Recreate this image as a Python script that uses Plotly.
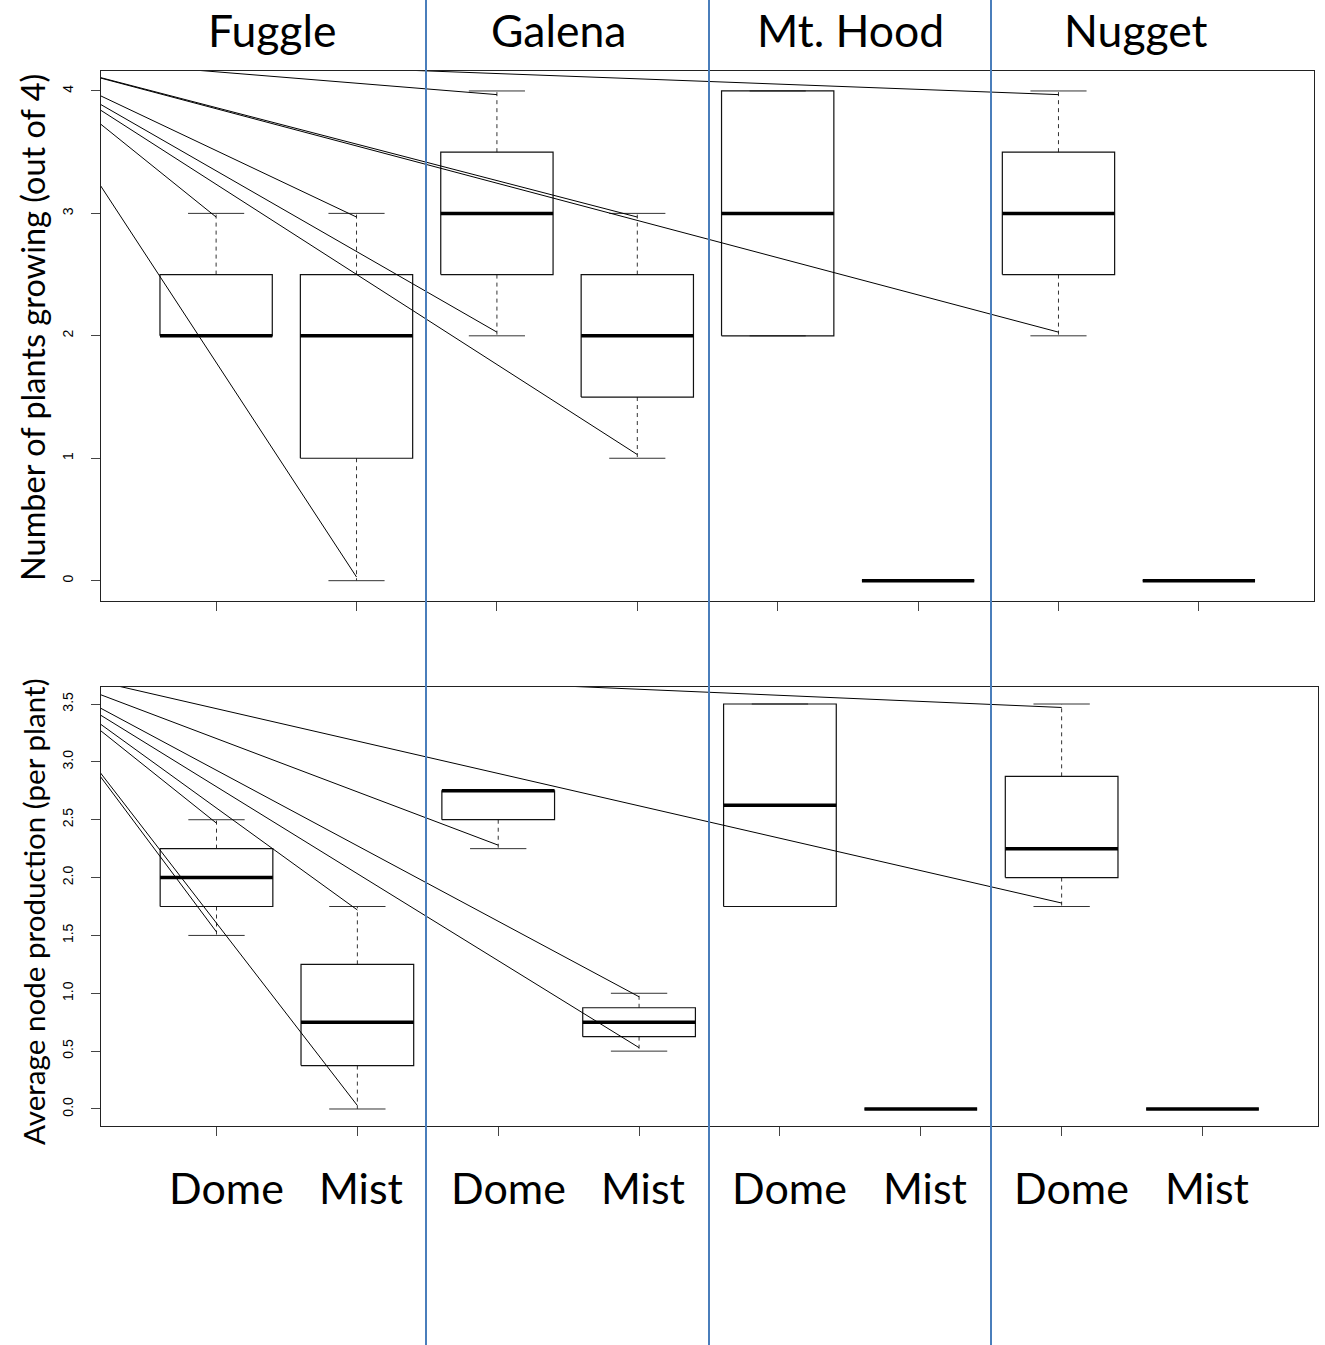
import plotly.graph_objects as go

# ---------------- data ----------------
varieties = ["Fuggle", "Galena", "Mt. Hood", "Nugget"]
treatments = ["Dome", "Mist"]
group_pos = [1, 2, 3, 4, 5, 6, 7, 8]  # Fuggle-Dome, Fuggle-Mist, Galena-Dome, ...

# Panel 1: Number of plants growing (out of 4)
plants_min = [2, 0, 2, 1, 2, 0, 2, 0]
plants_q1 = [2, 1, 2.5, 1.5, 2, 0, 2.5, 0]
plants_med = [2, 2, 3, 2, 3, 0, 3, 0]
plants_q3 = [2.5, 2.5, 3.5, 2.5, 4, 0, 3.5, 0]
plants_max = [3, 3, 4, 3, 4, 0, 4, 0]
plants_ticks = [0, 1, 2, 3, 4]

# Panel 2: Average node production (per plant)
nodes_min = [1.5, 0, 2.25, 0.5, 1.75, 0, 1.75, 0]
nodes_q1 = [1.75, 0.375, 2.5, 0.625, 1.75, 0, 2.0, 0]
nodes_med = [2.0, 0.75, 2.75, 0.75, 2.625, 0, 2.25, 0]
nodes_q3 = [2.25, 1.25, 2.75, 0.875, 3.5, 0, 2.875, 0]
nodes_max = [2.5, 1.75, 2.75, 1.0, 3.5, 0, 3.5, 0]
nodes_ticks = [0.0, 0.5, 1.0, 1.5, 2.0, 2.5, 3.0, 3.5]

# Straight pointer lines radiating from a point off the left of each panel
plants_ray_origin = [-0.43, 4.29]
plants_ray_x = [1, 2, 2, 3, 3, 4, 4, 7, 7]
plants_ray_y = [2.97, 2.97, 0.03, 3.97, 2.03, 2.97, 1.03, 3.97, 2.03]
nodes_ray_origin = [-0.43, 3.86]
nodes_ray_x = [1, 1, 2, 2, 3, 4, 4, 7, 7]
nodes_ray_y = [2.47, 1.53, 1.72, 0.03, 2.28, 0.97, 0.53, 3.47, 1.78]

# ---------------- styling ----------------
W, H = 1325, 1345
BOX_HW = 0.4
STAPLE_HW = 0.2
FONT_BIG = "Lato, 'Open Sans', sans-serif"
FONT_AX = "'Liberation Sans', Arial, sans-serif"
BLUE = "#4a7ebb"


def px_x(p):
    return p / W


def px_y(p):
    return 1 - p / H


fig = go.Figure()


def add_boxes(xa, ya, mins, q1s, meds, q3s, maxs):
    bx, by, mx, my, wx, wy, sx, sy = [], [], [], [], [], [], [], []
    for p, lo, a, m, b, hi in zip(group_pos, mins, q1s, meds, q3s, maxs):
        bx += [p - BOX_HW, p + BOX_HW, p + BOX_HW, p - BOX_HW, p - BOX_HW, None]
        by += [a, a, b, b, a, None]
        mx += [p - BOX_HW, p + BOX_HW, None]
        my += [m, m, None]
        if hi > b:
            wx += [p, p, None]
            wy += [b, hi, None]
        if lo < a:
            wx += [p, p, None]
            wy += [a, lo, None]
        sx += [p - STAPLE_HW, p + STAPLE_HW, None, p - STAPLE_HW, p + STAPLE_HW, None]
        sy += [hi, hi, None, lo, lo, None]
    common = dict(xaxis=xa, yaxis=ya, mode="lines", showlegend=False, hoverinfo="skip")
    fig.add_trace(go.Scatter(x=wx, y=wy, line=dict(color="#333333", width=1, dash="4px,4px"), **common))
    fig.add_trace(go.Scatter(x=sx, y=sy, line=dict(color="#333333", width=1), **common))
    fig.add_trace(go.Scatter(x=bx, y=by, line=dict(color="#111111", width=1.2), **common))
    fig.add_trace(go.Scatter(x=mx, y=my, line=dict(color="black", width=3.5), **common))


def add_rays(xa, ya, origin, xs, ys):
    rx, ry = [], []
    for x1, y1 in zip(xs, ys):
        rx += [origin[0], x1, None]
        ry += [origin[1], y1, None]
    fig.add_trace(go.Scatter(x=rx, y=ry, xaxis=xa, yaxis=ya, mode="lines",
                             line=dict(color="black", width=1),
                             showlegend=False, hoverinfo="skip"))


add_boxes("x", "y", plants_min, plants_q1, plants_med, plants_q3, plants_max)
add_rays("x", "y", plants_ray_origin, plants_ray_x, plants_ray_y)
add_boxes("x2", "y2", nodes_min, nodes_q1, nodes_med, nodes_q3, nodes_max)
add_rays("x2", "y2", nodes_ray_origin, nodes_ray_x, nodes_ray_y)

xaxis_common = dict(
    range=[0.18, 8.82], tickmode="array", tickvals=group_pos, showticklabels=False,
    ticks="outside", ticklen=9, tickcolor="#444444", tickwidth=1,
    showline=True, mirror=True, linecolor="#222222", linewidth=1,
    showgrid=False, zeroline=False, fixedrange=True,
)
yaxis_common = dict(
    ticks="outside", ticklen=9, tickcolor="#444444", tickwidth=1,
    showline=True, mirror=True, linecolor="#222222", linewidth=1,
    showgrid=False, zeroline=False, tickangle=-90, ticklabelstandoff=12,
    tickfont=dict(family=FONT_AX, size=14, color="black"), fixedrange=True,
)

fig.update_layout(
    width=W, height=H,
    margin=dict(l=0, r=0, t=0, b=0),
    paper_bgcolor="white", plot_bgcolor="white",
    xaxis=dict(domain=[px_x(101), px_x(1314)], anchor="y", **xaxis_common),
    yaxis=dict(domain=[px_y(601), px_y(71)], anchor="x", range=[-0.166, 4.163],
               tickmode="array", tickvals=plants_ticks,
               ticktext=[str(v) for v in plants_ticks], **yaxis_common),
    xaxis2=dict(domain=[px_x(101), px_x(1318)], anchor="y2", **xaxis_common),
    yaxis2=dict(domain=[px_y(1126), px_y(687)], anchor="x2", range=[-0.147, 3.647],
                tickmode="array", tickvals=nodes_ticks,
                ticktext=[f"{v:.1f}" for v in nodes_ticks], **yaxis_common),
)

# variety titles across the top
title_px = [272, 558, 851, 1136]
for name, px in zip(varieties, title_px):
    fig.add_annotation(text=name, xref="paper", yref="paper", x=px_x(px), y=px_y(30),
                       showarrow=False, xanchor="center", yanchor="middle", borderpad=0,
                       font=dict(family=FONT_BIG, size=44.5, color="black"))

# treatment labels under bottom panel
for i, p in enumerate(group_pos):
    fig.add_annotation(text=treatments[i % 2], xref="x2", yref="paper", x=p, y=px_y(1187),
                       xshift=10 if i % 2 == 0 else 4,
                       showarrow=False, xanchor="center", yanchor="middle",
                       font=dict(family=FONT_BIG, size=43, color="black"))

# y-axis titles
fig.add_annotation(text="Number of plants growing (out of 4)", xref="paper", yref="paper",
                   x=px_x(33), y=px_y(328), textangle=-90, showarrow=False,
                   xanchor="center", yanchor="middle",
                   font=dict(family=FONT_BIG, size=32.5, color="black"))
fig.add_annotation(text="Average node production (per plant)", xref="paper", yref="paper",
                   x=px_x(33), y=px_y(912), textangle=-90, showarrow=False,
                   xanchor="center", yanchor="middle",
                   font=dict(family=FONT_BIG, size=29.6, color="black"))

# blue separators between varieties (full height)
for px in [426, 709, 991]:
    fig.add_shape(type="line", xref="paper", yref="paper", x0=px_x(px), x1=px_x(px), y0=0, y1=1,
                  line=dict(color=BLUE, width=2), layer="above")

fig.write_html("out.html",
               config={"displayModeBar": False, "staticPlot": True},
               post_script="document.body.style.margin='0';document.body.style.overflow='hidden';")
